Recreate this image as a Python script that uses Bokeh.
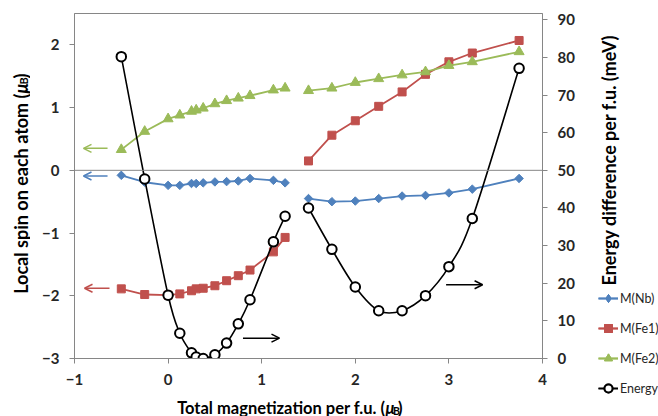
import math
from bokeh.plotting import figure
from bokeh.models import (Range1d, LinearAxis, FixedTicker, Span, Arrow, OpenHead,
                          Legend, LegendItem, ColumnDataSource)
from bokeh.layouts import row, column
from bokeh.core.properties import value
from bokeh.embed import file_html
from bokeh.resources import INLINE

# ---------------- data ----------------
x_low = [-0.5, -0.25, 0.0, 0.125, 0.25, 0.3, 0.375, 0.5, 0.625, 0.75, 0.875, 1.125, 1.25]
x_high = [1.5, 1.75, 2.0, 2.25, 2.5, 2.75, 3.0, 3.25, 3.75]

nb_low = [-0.08, -0.19, -0.24, -0.24, -0.21, -0.21, -0.20, -0.185, -0.18, -0.17, -0.13, -0.16, -0.20]
nb_high = [-0.45, -0.50, -0.49, -0.45, -0.41, -0.40, -0.36, -0.30, -0.13]

fe1_low = [-1.89, -1.98, -1.99, -1.97, -1.92, -1.89, -1.88, -1.84, -1.76, -1.68, -1.59, -1.30, -1.07]
fe1_high = [0.15, 0.56, 0.79, 1.02, 1.25, 1.53, 1.73, 1.87, 2.07]

fe2_low = [0.33, 0.62, 0.82, 0.88, 0.94, 0.96, 0.99, 1.06, 1.11, 1.15, 1.19, 1.28, 1.31]
fe2_high = [1.27, 1.31, 1.40, 1.46, 1.52, 1.57, 1.67, 1.73, 1.89]

energy_low = [80.2, 47.7, 16.8, 6.7, 1.5, 0.4, 0.0, 1.0, 4.1, 9.2, 15.6, 31.0, 37.8]
energy_high = [40.0, 29.0, 19.0, 12.7, 12.7, 16.7, 24.4, 37.2, 77.1]

series_names = ["M(Nb)", "M(Fe1)", "M(Fe2)", "Energy"]
x_ticks = [-1, 0, 1, 2, 3, 4]
left_ticks = [-3, -2, -1, 0, 1, 2]
right_ticks = [0, 10, 20, 30, 40, 50, 60, 70, 80, 90]

x_title = "Total magnetization per f.u. ("
left_title = "Local spin on each atom ("
right_title = "Energy difference per f.u. (meV)"

# arrows: (start x, end x, y)
left_arrows = [(-0.647, -0.904, 0.35, "#9BBB59"), (-0.647, -0.904, -0.09, "#4F81BD"),
               (-0.626, -0.893, -1.88, "#C0504D")]
right_arrows = [(0.80, 1.19, 5.4), (2.97, 3.36, 19.6)]

# ---------------- layout constants ----------------
W, H = 658, 416
LW = 30            # left strip width
RX = 590           # right strip starts
BH = 18            # bottom strip height
FL, FR, FT, FB = 74, 542, 13, 358
X0, X1 = -1, 4
Y0, Y1 = -3, 2.5
E0, E1 = 0, 50 + 2.5 * 50 / 3

BLUE, RED, GREEN = "#4F81BD", "#C0504D", "#9BBB59"
GRAY = "#868686"
TXT = "#262626"
FONT = "Lato"

# ---------------- main figure ----------------
MW, MH = RX - LW, H - BH
p = figure(width=MW, height=MH, output_backend="svg", toolbar_location=None,
           x_range=Range1d(X0, X1), y_range=Range1d(Y0, Y1),
           min_border_left=FL - LW, min_border_right=RX - FR, min_border_top=FT,
           min_border_bottom=MH - FB)
p.extra_y_ranges = {"energy": Range1d(E0, E1)}
p.xgrid.visible = False
p.ygrid.visible = False
p.outline_line_color = GRAY
p.background_fill_color = "white"
p.border_fill_color = "white"

raxis = LinearAxis(y_range_name="energy")
p.add_layout(raxis, "right")

p.xaxis.ticker = FixedTicker(ticks=x_ticks)
p.yaxis[0].ticker = FixedTicker(ticks=left_ticks)
raxis.ticker = FixedTicker(ticks=right_ticks)

for ax in [p.xaxis[0], p.yaxis[0], raxis]:
    ax.axis_line_color = GRAY
    ax.major_tick_line_color = GRAY
    ax.major_tick_out = 5
    ax.major_tick_in = 0
    ax.minor_tick_line_color = None
    ax.major_label_text_font = FONT
    ax.major_label_text_font_style = "bold"
    ax.major_label_text_font_size = "15px"
    ax.major_label_text_color = TXT
    ax.major_label_standoff = 10

p.add_layout(Span(location=0, dimension="width", line_color=GRAY, line_width=1))


def smooth(xs, ys):
    n = len(xs)
    d = dict(x0=[], y0=[], x1=[], y1=[], cx0=[], cy0=[], cx1=[], cy1=[])
    for i in range(n - 1):
        a = max(i - 1, 0)
        b = min(i + 2, n - 1)
        d["x0"].append(xs[i]); d["y0"].append(ys[i])
        d["x1"].append(xs[i + 1]); d["y1"].append(ys[i + 1])
        d["cx0"].append(xs[i] + (xs[i + 1] - xs[a]) / 6)
        d["cy0"].append(ys[i] + (ys[i + 1] - ys[a]) / 6)
        d["cx1"].append(xs[i + 1] - (xs[b] - xs[i]) / 6)
        d["cy1"].append(ys[i + 1] - (ys[b] - ys[i]) / 6)
    return ColumnDataSource(d)


STYLES = [
    (BLUE, "square", 6, math.pi / 4),
    (RED, "square", 8, 0),
    (GREEN, "triangle", 10, 0),
]
LEGEND_STYLES = [
    (BLUE, "diamond", 9, 0),
    (RED, "square", 8, 0),
    (GREEN, "triangle", 10, 0),
]
SPIN = [([x_low, x_high], [nb_low, nb_high]),
        ([x_low, x_high], [fe1_low, fe1_high]),
        ([x_low, x_high], [fe2_low, fe2_high])]


def draw_all(fig, styles):
    """Draw every series into fig; returns renderer lists per legend entry."""
    groups = []
    for (color, marker, size, angle), (xsl, ysl) in zip(styles, SPIN):
        rs = []
        for xs, ys in zip(xsl, ysl):
            src = ColumnDataSource(dict(x=xs, y=ys))
            rs.append(fig.line("x", "y", source=src, line_color=color, line_width=1.8))
            rs.append(fig.scatter("x", "y", source=src, marker=marker, size=size, angle=angle,
                                  fill_color=color, line_color=color))
        groups.append(rs)
    rs = []
    for xs, ys in [(x_low, energy_low), (x_high, energy_high)]:
        rs.append(fig.bezier("x0", "y0", "x1", "y1", "cx0", "cy0", "cx1", "cy1",
                             source=smooth(xs, ys), line_color="black", line_width=1.6,
                             y_range_name="energy"))
        rs.append(fig.scatter(xs, ys, marker="circle", size=9.5, fill_color="white",
                              line_color="black", line_width=2, y_range_name="energy"))
    groups.append(rs)
    return groups


draw_all(p, STYLES)

for xa, xb, y, col in left_arrows:
    p.add_layout(Arrow(x_start=xa, x_end=xb, y_start=y, y_end=y, line_color=col, line_width=1.5,
                       end=OpenHead(size=8, line_color=col, line_width=1.5)))
for xa, xb, y in right_arrows:
    p.add_layout(Arrow(x_start=xa, x_end=xb, y_start=y, y_end=y, line_color="black",
                       line_width=1.5, y_range_name="energy",
                       end=OpenHead(size=8, line_color="black", line_width=1.5)))


# ---------------- text strips (pixel coordinate figures) ----------------
def strip(w, h, x0, y0):
    f = figure(width=w, height=h, output_backend="svg", toolbar_location=None,
               x_range=Range1d(x0, x0 + w), y_range=Range1d(y0 + h, y0),
               x_axis_type=None, y_axis_type=None, min_border=0,
               min_border_left=0, min_border_right=0, min_border_top=0, min_border_bottom=0)
    f.outline_line_color = None
    f.background_fill_color = "white"
    f.border_fill_color = "white"
    return f


def txt(f, text, x, y, size=18, style="bold", align="left", angle=0.0):
    f.text(x=[x], y=[y], text=[text], text_font=value(FONT), text_font_size=f"{size}px",
           text_font_style=style, text_color="black", text_align=align,
           text_baseline="alphabetic", angle=angle)


A = math.pi / 2

# left strip: rotated left axis title
left_fig = strip(LW, H, 0, 0)
txt(left_fig, left_title, 20, 93, align="right", angle=A)
txt(left_fig, "μ", 20, 93, style="bold italic", angle=A)
txt(left_fig, "B", 23, 84, size=11, angle=A)
txt(left_fig, ")", 20, 78, angle=A)

# bottom strip: x axis title
bottom_fig = strip(MW, BH, LW, MH)
txt(bottom_fig, x_title, 402, 407, size=16.5, align="right")
txt(bottom_fig, "μ", 402, 407, size=16.5, style="bold italic")
txt(bottom_fig, "B", 411, 410, size=10.5)
txt(bottom_fig, ")", 417, 407, size=16.5)

# right strip: right axis title and legend
right_fig = strip(W - RX, H, RX, 0)
right_fig.extra_y_ranges = {"energy": Range1d(E0, E1)}
txt(right_fig, right_title, 608, 285, angle=A)
groups = draw_all(right_fig, LEGEND_STYLES)   # outside this strip's range: legend glyphs only
items = [LegendItem(label=n, renderers=g) for n, g in zip(series_names, groups)]
legend = Legend(items=items, location=(598 - RX, H - 398), orientation="vertical",
                padding=0, margin=0, spacing=10, glyph_width=20, glyph_height=20,
                label_height=20, label_standoff=2, border_line_color=None,
                background_fill_alpha=0, label_text_font=FONT, label_text_font_size="12.5px",
                label_text_color=TXT)
right_fig.add_layout(legend, "center")

layout = row(left_fig, column(p, bottom_fig), right_fig)

open("out.html", "w").write(file_html(layout, INLINE))
